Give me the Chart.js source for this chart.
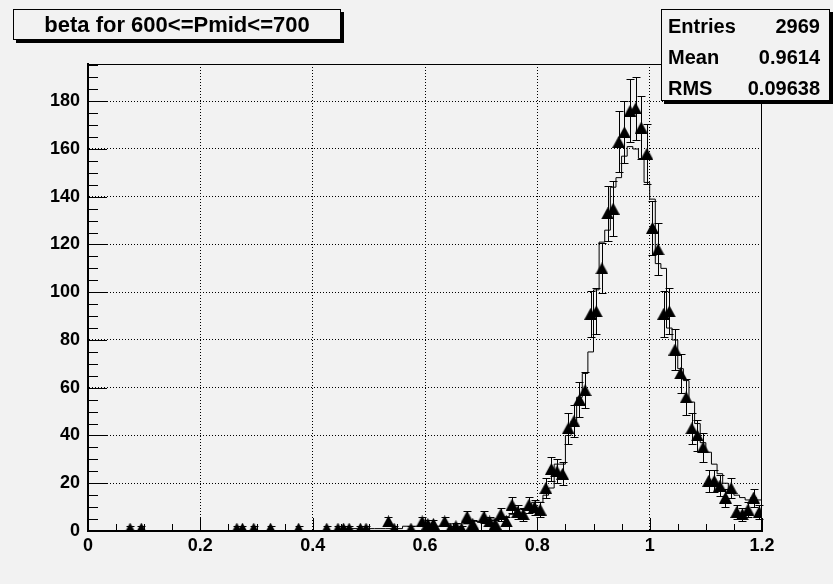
<!DOCTYPE html>
<html>
<head>
<meta charset="utf-8">
<script src="https://cdn.jsdelivr.net/npm/chart.js@4/dist/chart.umd.min.js"></script>
<style>
  html, body { margin: 0; padding: 0; background: #f2f2f2; }
  #wrap { position: relative; width: 833px; height: 584px; }
  .box {
    position: absolute; box-sizing: border-box; background: #f2f2f2;
    border: 1px solid #000; box-shadow: 3px 3px 0 #000;
    font-family: "Liberation Sans", Arial, sans-serif; font-weight: bold; color: #000;
  }
  #title { left: 13px; top: 9px; width: 328px; height: 31px; font-size: 22px; line-height: 29px; text-align: center; }
  #stats { left: 661px; top: 9px; width: 169px; height: 92px; font-size: 20px; }
  #stats div { position: absolute; left: 6px; right: 9px; height: 30px; line-height: 30px; }
  #stats span { float: right; }
</style>
</head>
<body>
<div id="wrap">
  <canvas id="histo"></canvas>
  <div class="box" id="title">beta for 600&lt;=Pmid&lt;=700</div>
  <div class="box" id="stats">
    <div style="top:1px">Entries<span>2969</span></div>
    <div style="top:32px">Mean<span>0.9614</span></div>
    <div style="top:63px">RMS<span>0.09638</span></div>
  </div>
</div>
<script>
'use strict';

// binning: 120 bins from 0 to 1.2
const binWidth = 0.01;
const xMin = 0, xMax = 1.2;
const yMin = 0, yMax = 195.6;

// measured counts (triangles with error bars), one per bin
const dataCounts = [
  0, 0, 0, 0, 0, 0, 0, 1, 0, 1,
  0, 0, 0, 0, 0, 0, 0, 0, 0, 0,
  0, 0, 0, 0, 0, 0, 1, 1, 0, 1,
  0, 0, 1, 0, 0, 0, 0, 1, 0, 0,
  0, 0, 1, 0, 1, 1, 1, 0, 1, 1,
  0, 0, 0, 4, 1, 0, 0, 1, 0, 4,
  3, 3, 0, 4, 1, 2, 1, 6, 3, 0,
  6, 4, 3, 7, 4, 11, 8, 7, 11, 10,
  9, 18, 26, 25, 24, 43, 46, 55, 59, 91,
  92, 110, 133, 135, 163, 167, 176, 177, 169, 158,
  127, 118, 91, 92, 76, 66, 56, 43, 40, 35,
  21, 21, 19, 14, 18, 8, 7, 9, 14, 8
];

// reference histogram (solid step line), one per bin
const refCounts = [
  0, 0, 0, 0, 0, 0, 0, 0, 0, 0,
  0, 0, 0, 0, 0, 0, 0, 0, 0, 0,
  0, 0, 0, 0, 0, 0, 0, 0, 0, 0,
  0, 0, 0, 0, 0, 0, 0, 0, 0, 0,
  0, 0, 0, 0, 0, 1, 1, 1, 1, 1,
  1, 1, 1, 1, 1, 1, 2, 2, 2, 2,
  2, 2, 2, 3, 3, 3, 3, 3, 4, 4,
  4, 5, 5, 6, 6, 7, 9, 9, 10, 12,
  12, 15, 18, 28, 28, 40, 46, 56, 66, 75,
  101, 121, 126, 144, 148, 157, 161, 160, 156, 146,
  139, 112, 110, 85, 80, 68, 63, 54, 45, 37,
  33, 28, 24, 20, 17, 15, 14, 13, 14, 13
];

const xTickLabels = ['0', '0.2', '0.4', '0.6', '0.8', '1', '1.2'];
const yTickLabels = ['0', '20', '40', '60', '80', '100', '120', '140', '160', '180'];

const binCenter = i => +(binWidth * (i + 0.5)).toFixed(4);
const binEdge = i => +(binWidth * i).toFixed(4);

const pointData = [];
dataCounts.forEach((v, i) => { if (v > 0) pointData.push({ x: binCenter(i), y: v }); });

const stepData = refCounts.map((v, i) => ({ x: binEdge(i), y: v }));
stepData.push({ x: xMax, y: refCounts[refCounts.length - 1] });

// ROOT style triangle marker, centred on its bounding box
const marker = document.createElement('canvas');
marker.width = 13;
marker.height = 12;
(function () {
  const m = marker.getContext('2d');
  m.fillStyle = '#000';
  m.beginPath();
  m.moveTo(6.5, 0);
  m.lineTo(13, 12);
  m.lineTo(0, 12);
  m.closePath();
  m.fill();
})();

const tickFont = { family: '"Liberation Sans", Arial, sans-serif', size: 18, weight: 'bold' };

// error bars, inward ticks and the thin top/right frame
const rootFrame = {
  id: 'rootFrame',
  beforeDatasetsDraw(chart) {
    const { ctx, scales: { x, y } } = chart;
    ctx.save();
    ctx.strokeStyle = '#000';
    ctx.lineWidth = 1;
    pointData.forEach(p => {
      const e = Math.sqrt(p.y);
      const px = Math.round(x.getPixelForValue(p.x)) + 0.5;
      const top = Math.round(y.getPixelForValue(p.y + e)) + 0.5;
      const bot = Math.round(y.getPixelForValue(Math.max(p.y - e, 0))) + 0.5;
      ctx.beginPath();
      ctx.moveTo(px, top); ctx.lineTo(px, bot);
      ctx.moveTo(px - 4, top); ctx.lineTo(px + 4, top);
      ctx.moveTo(px - 4, bot); ctx.lineTo(px + 4, bot);
      ctx.stroke();
    });
    ctx.restore();
  },
  afterDraw(chart) {
    const { ctx, chartArea: a, scales: { x, y } } = chart;
    ctx.save();
    ctx.strokeStyle = '#000';
    ctx.lineWidth = 1;
    ctx.beginPath();
    // y ticks every 5, major every 20
    for (let v = 0; v <= yMax; v += 5) {
      const py = Math.round(y.getPixelForValue(v)) + 0.5;
      const len = v % 20 === 0 ? 19 : 10;
      ctx.moveTo(a.left, py); ctx.lineTo(a.left + len, py);
    }
    // x ticks every 0.05, major every 0.2
    for (let k = 0; k <= 24; k++) {
      const px = Math.round(x.getPixelForValue(k * 0.05)) + 0.5;
      const len = k % 4 === 0 ? 13 : 7;
      ctx.moveTo(px, a.bottom); ctx.lineTo(px, a.bottom - len);
    }
    // frame top and right
    ctx.moveTo(a.left, Math.round(a.top) + 0.5); ctx.lineTo(a.right, Math.round(a.top) + 0.5);
    ctx.moveTo(Math.round(a.right) - 0.5, a.top); ctx.lineTo(Math.round(a.right) - 0.5, a.bottom);
    ctx.stroke();
    ctx.restore();
  }
};

const gridColor = (ctx) => {
  const v = ctx.tick ? ctx.tick.value : null;
  if (v === null || v <= 0 || v >= 1.19 && v <= 1.21) return 'rgba(0,0,0,0)';
  return '#000';
};

new Chart(document.getElementById('histo'), {
  type: 'line',
  data: {
    datasets: [
      {
        label: 'reference',
        data: stepData,
        stepped: true,
        borderColor: '#000',
        borderWidth: 1,
        pointRadius: 0,
        fill: false,
        order: 2
      },
      {
        label: 'beta',
        data: pointData,
        showLine: false,
        pointStyle: marker,
        pointRadius: 6,
        pointHoverRadius: 6,
        order: 1
      }
    ]
  },
  options: {
    responsive: true,
    maintainAspectRatio: false,
    animation: false,
    events: [],
    layout: { padding: { top: 64, right: 71, left: 0, bottom: 0 } },
    plugins: { legend: { display: false }, tooltip: { enabled: false } },
    scales: {
      x: {
        type: 'linear',
        min: xMin,
        max: xMax,
        afterFit: s => { s.height = 53; },
        grid: { color: gridColor, lineWidth: 1, drawTicks: false },
        border: { display: true, color: '#000', width: 2, dash: [1, 2] },
        ticks: {
          stepSize: 0.2,
          padding: 4,
          color: '#000',
          font: tickFont,
          maxRotation: 0,
          callback: (v, i) => xTickLabels[i]
        }
      },
      y: {
        type: 'linear',
        min: yMin,
        max: yMax,
        afterFit: s => { s.width = 88; },
        grid: { color: gridColor, lineWidth: 1, drawTicks: false },
        border: { display: true, color: '#000', width: 2, dash: [1, 2] },
        ticks: {
          stepSize: 20,
          includeBounds: false,
          padding: 8,
          color: '#000',
          font: tickFont,
          callback: (v, i) => yTickLabels[i]
        }
      }
    }
  },
  plugins: [rootFrame]
});
</script>
</body>
</html>
